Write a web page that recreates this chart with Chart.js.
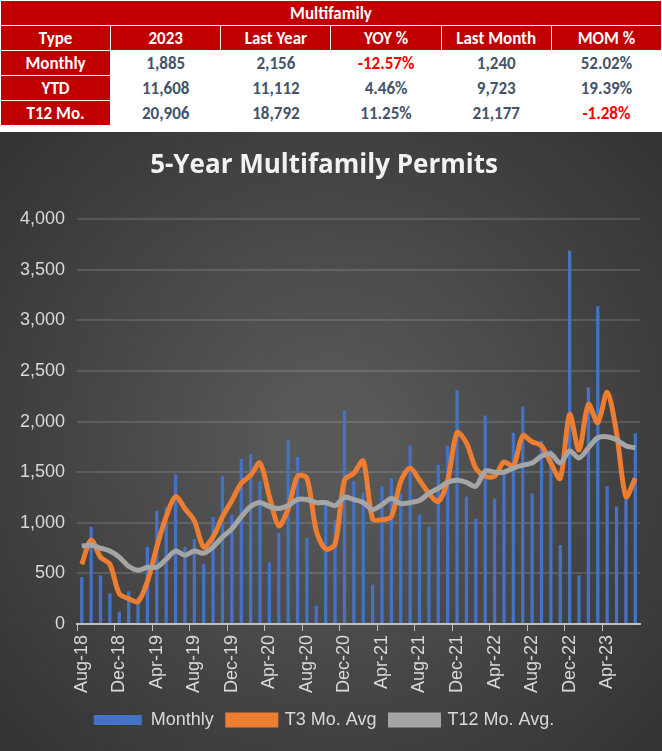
<!DOCTYPE html>
<html><head><meta charset="utf-8">
<script src="https://cdn.jsdelivr.net/npm/chart.js@4"></script>
<style>
body{margin:0;width:662px;height:751px;background:#fff;font-family:Calibri,"Liberation Sans",Arial,sans-serif;overflow:hidden}
table{width:662px;border-collapse:collapse;table-layout:fixed}
td{border:1px solid #fff;text-align:center;font-weight:bold;font-size:17px;height:24px;padding:0}
.hd{background:#c00000;color:#fff}
.v{color:#44546a}
.neg{color:#ff0000}
#wrap{position:absolute;left:0;top:132px;width:662px;height:619px}
</style></head><body>
<table>
<tr><td class="hd" colspan="6">Multifamily</td></tr>
<tr><td class="hd">Type</td><td class="hd">2023</td><td class="hd">Last Year</td><td class="hd">YOY %</td><td class="hd">Last Month</td><td class="hd">MOM %</td></tr>
<tr><td class="hd">Monthly</td><td class="v">1,885</td><td class="v">2,156</td><td class="neg">-12.57%</td><td class="v">1,240</td><td class="v">52.02%</td></tr>
<tr><td class="hd">YTD</td><td class="v">11,608</td><td class="v">11,112</td><td class="v">4.46%</td><td class="v">9,723</td><td class="v">19.39%</td></tr>
<tr><td class="hd">T12 Mo.</td><td class="v">20,906</td><td class="v">18,792</td><td class="v">11.25%</td><td class="v">21,177</td><td class="neg">-1.28%</td></tr>
</table>
<div id="wrap"><canvas id="c"></canvas></div>
<script>
const months = ['Aug-18','Sep-18','Oct-18','Nov-18','Dec-18','Jan-19','Feb-19','Mar-19','Apr-19','May-19','Jun-19','Jul-19',
 'Aug-19','Sep-19','Oct-19','Nov-19','Dec-19','Jan-20','Feb-20','Mar-20','Apr-20','May-20','Jun-20','Jul-20',
 'Aug-20','Sep-20','Oct-20','Nov-20','Dec-20','Jan-21','Feb-21','Mar-21','Apr-21','May-21','Jun-21','Jul-21',
 'Aug-21','Sep-21','Oct-21','Nov-21','Dec-21','Jan-22','Feb-22','Mar-22','Apr-22','May-22','Jun-22','Jul-22',
 'Aug-22','Sep-22','Oct-22','Nov-22','Dec-22','Jan-23','Feb-23','Mar-23','Apr-23','May-23','Jun-23','Jul-23'];
const monthly = [463,960,480,300,120,320,260,760,1120,1150,1480,760,840,590,1060,1460,1080,1630,1680,1410,610,900,1820,1650,
 850,180,1180,1030,2110,1410,1300,390,1360,1440,1290,1760,1080,960,1570,1760,2310,1260,1040,2060,1240,1490,1890,2150,
 1290,1810,1720,780,3690,480,2340,3140,1360,1160,1240,1885];
const t3 = [590,830,660,590,300,250,220,420,760,1060,1260,1140,1020,760,860,1060,1220,1390,1470,1590,1260,970,1140,1460,
 1440,920,740,790,1420,1490,1610,1040,1030,1060,1410,1540,1420,1290,1210,1420,1890,1790,1540,1460,1460,1600,1560,1860,
 1800,1760,1590,1440,2070,1720,2170,1990,2290,1890,1260,1440];
const t12 = [770,780,750,720,660,570,530,560,560,640,720,680,720,700,760,860,940,1060,1160,1200,1160,1140,1170,1230,
 1230,1200,1200,1170,1250,1230,1200,1130,1180,1240,1190,1200,1220,1290,1340,1400,1420,1400,1360,1510,1500,1500,1540,1570,
 1590,1660,1680,1590,1710,1640,1740,1840,1850,1820,1760,1740];

const bgPlugin = {
  id: 'bg',
  beforeDraw(chart) {
    const {ctx, width, height} = chart;
    const g = ctx.createRadialGradient(width/2, height/2, 50, width/2, height/2, width*0.75);
    g.addColorStop(0, '#585858');
    g.addColorStop(1, '#2e2e2e');
    ctx.save();
    ctx.fillStyle = g;
    ctx.fillRect(0, 0, width, height);
    ctx.restore();
  }
};

const order = {'Monthly':0,'T3 Mo. Avg':1,'T12 Mo. Avg.':2};

new Chart(document.getElementById('c'), {
  data: {
    labels: months,
    datasets: [
      {type:'line', label:'T3 Mo. Avg', data:t3, borderColor:'#ed7d31', backgroundColor:'#ed7d31', borderWidth:5, pointRadius:0, tension:0.3, order:1},
      {type:'line', label:'T12 Mo. Avg.', data:t12, borderColor:'#a5a5a5', backgroundColor:'#a5a5a5', borderWidth:5, pointRadius:0, tension:0.3, order:0},
      {type:'bar', label:'Monthly', data:monthly, backgroundColor:'#4472c4', barPercentage:0.35, categoryPercentage:1, order:2}
    ]
  },
  options: {
    responsive:true, maintainAspectRatio:false, animation:false,
    layout:{padding:{left:8,right:22,top:14,bottom:12}},
    plugins: {
      title:{display:true, text:'5-Year Multifamily Permits', color:'#f2f2f2', font:{size:26,weight:'bold',family:'"Open Sans", sans-serif'}, padding:{top:4,bottom:38}},
      legend:{position:'bottom', labels:{color:'#d9d9d9', font:{size:18}, boxWidth:48, boxHeight:10, padding:14,
        sort:(a,b)=>order[a.text]-order[b.text]}},
      tooltip:{enabled:false}
    },
    scales: {
      y:{min:0,max:4000, ticks:{stepSize:500, color:'#d9d9d9', font:{size:18}, padding:12, callback:v=>v.toLocaleString('en-US')},
         grid:{color:'rgba(255,255,255,0.13)', lineWidth:2, drawTicks:false}, border:{display:false}},
      x:{ticks:{color:'#d9d9d9', font:{size:18}, autoSkip:false, maxRotation:90, minRotation:90, padding:4,
           callback:(v,i)=> i%4===0 ? months[i] : ''},
         grid:{drawOnChartArea:false, color:(c)=> c.index%4===0 ? '#bfbfbf' : 'rgba(0,0,0,0)', tickLength:7, offset:true},
         border:{color:'#bfbfbf', width:2}}
    }
  },
  plugins:[bgPlugin]
});
</script>
</body></html>
